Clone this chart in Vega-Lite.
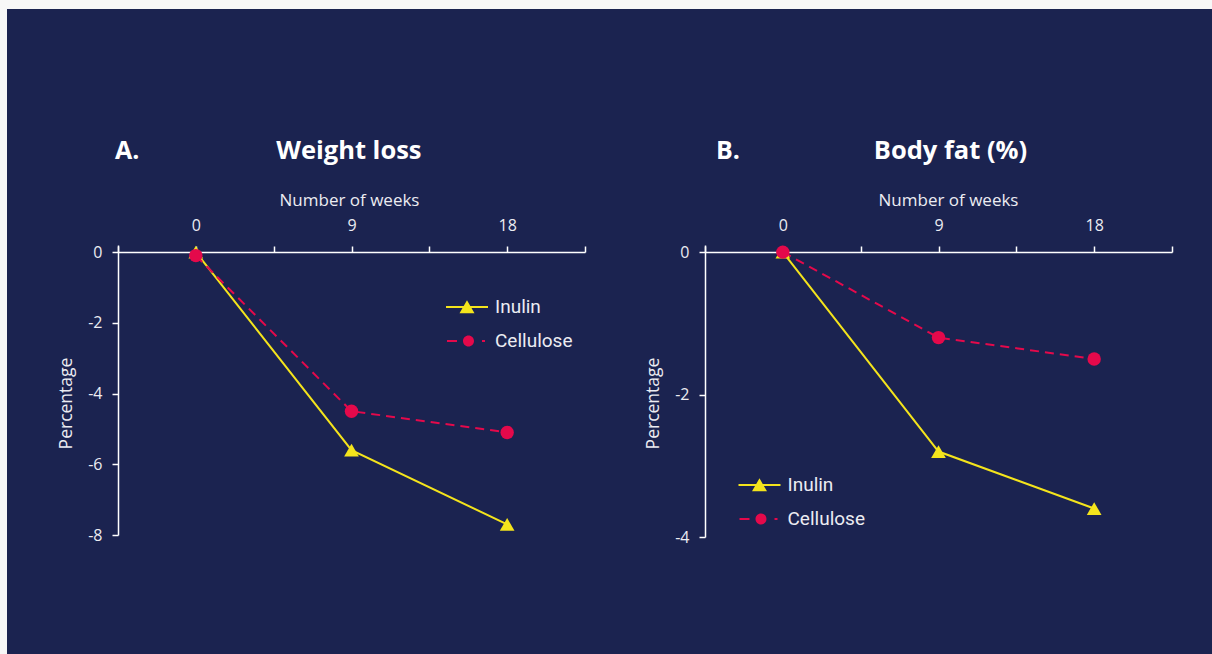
{
  "$schema": "https://vega.github.io/schema/vega-lite/v6.json",
  "width": 1205,
  "height": 645,
  "autosize": {"type": "none"},
  "padding": {"left": 7, "top": 9, "right": 0, "bottom": 0},
  "background": "#f7f7f7",
  "config": {
    "view": {"fill": "#1b2350", "stroke": null},
    "font": "Open Sans",
    "axis": {
      "domainColor": "#ffffff", "domainWidth": 1.5,
      "tickColor": "#ffffff", "tickWidth": 1.5, "tickSize": 6,
      "labelColor": "#ececf2", "titleColor": "#ececf2",
      "grid": false, "labelFont": "Open Sans", "titleFont": "Open Sans",
      "titleFontWeight": "normal"
    },
    "legend": {
      "labelFont": "Roboto", "labelFontSize": 19, "labelColor": "#ececf2",
      "symbolSize": 100, "symbolStrokeWidth": 0, "padding": 0
    },
    "text": {"font": "Open Sans"}
  },
  "datasets": {
    "weight": [
      {"series": "Inulin", "week": 0, "value": 0},
      {"series": "Inulin", "week": 9, "value": -5.6},
      {"series": "Inulin", "week": 18, "value": -7.7},
      {"series": "Cellulose", "week": 0, "value": -0.1},
      {"series": "Cellulose", "week": 9, "value": -4.5},
      {"series": "Cellulose", "week": 18, "value": -5.1}
    ],
    "fat": [
      {"series": "Inulin", "week": 0, "value": 0},
      {"series": "Inulin", "week": 9, "value": -2.8},
      {"series": "Inulin", "week": 18, "value": -3.6},
      {"series": "Cellulose", "week": 0, "value": 0},
      {"series": "Cellulose", "week": 9, "value": -1.2},
      {"series": "Cellulose", "week": 18, "value": -1.5}
    ]
  },
  "layer": [
    {
      "data": {"name": "weight"},
      "layer": [
        {
          "transform": [{"filter": "datum.series === 'Inulin'"}],
          "mark": {"type": "line", "strokeWidth": 2},
          "encoding": {
            "x": {"field": "week", "type": "quantitative",
              "scale": {"domain": [-4.5, 22.5], "range": [111, 578], "nice": false, "zero": false},
              "axis": {"orient": "top", "offset": -243, "values": [-4.5, 0, 4.5, 9, 13.5, 18, 22.5],
                "labelExpr": "datum.value % 9 === 0 ? '' + datum.value : ''", "labelFontSize": 16,
                "labelBaseline": "alphabetic", "labelPadding": 16, "labelFlush": false, "labelOverlap": false,
                "title": "Number of weeks", "titleFontSize": 17, "titleX": 342, "titleY": -47,
                "titleAlign": "center", "titleBaseline": "alphabetic"}},
            "y": {"field": "value", "type": "quantitative",
              "scale": {"domain": [-8, 0.2], "range": [526, 236], "nice": false, "zero": false},
              "axis": {"orient": "left", "offset": -111, "values": [0, -2, -4, -6, -8],
                "labelExpr": "'' + datum.value", "labelFontSize": 16, "labelPadding": 10,
                "title": "Percentage", "titleFontSize": 17.5, "titleAngle": -90, "titleX": -46.5, "titleY": 394,
                "titleAlign": "center", "titleBaseline": "alphabetic"}},
            "color": {"field": "series", "type": "nominal",
              "scale": {"domain": ["Inulin", "Cellulose"], "range": ["#f4e41c", "#e4094b"]},
              "legend": {"orient": "none", "legendX": 450.5, "legendY": 288.5, "title": null,
                "labelOffset": 18.5, "rowPadding": 14,
                "encode": {"symbols": {"update": {
                  "shape": {"signal": "datum.value === 'Inulin' ? 'M-4.2,-0.2H4.2V0.2H-4.2Z M-1.5,1.27L0,-1.33L1.5,1.27Z' : 'M-4,-0.18H-2V0.18H-4Z M3,-0.18H3.6V0.18H3Z M-0.8,0.0A1.1,1.1,0,1,0,1.4,0A1.1,1.1,0,1,0,-0.8,0Z'"},
                  "fill": {"signal": "datum.value === 'Inulin' ? '#f4e41c' : '#e4094b'"},
                  "stroke": {"value": "transparent"},
                  "opacity": {"value": 1}}}}}}
          }
        },
        {
          "transform": [{"filter": "datum.series === 'Cellulose'"}],
          "mark": {"type": "line", "strokeWidth": 2, "strokeDash": [9, 6]},
          "encoding": {
            "x": {"field": "week", "type": "quantitative"},
            "y": {"field": "value", "type": "quantitative"},
            "color": {"field": "series", "type": "nominal"}
          }
        },
        {
          "transform": [{"filter": "datum.series === 'Inulin'"}],
          "mark": {"type": "point", "shape": "triangle-up", "filled": true, "size": 216, "opacity": 1},
          "encoding": {
            "x": {"field": "week", "type": "quantitative"},
            "y": {"field": "value", "type": "quantitative"},
            "color": {"field": "series", "type": "nominal"}
          }
        },
        {
          "transform": [{"filter": "datum.series === 'Cellulose'"}],
          "mark": {"type": "point", "shape": "circle", "filled": true, "size": 180, "opacity": 1},
          "encoding": {
            "x": {"field": "week", "type": "quantitative"},
            "y": {"field": "value", "type": "quantitative"},
            "color": {"field": "series", "type": "nominal"}
          }
        },
        {
          "data": {"values": [{"label": "A."}]},
          "mark": {"type": "text", "align": "left", "baseline": "alphabetic", "fontSize": 25, "fontWeight": "bold", "color": "#ffffff"},
          "encoding": {
            "x": {"datum": -4.67, "type": "quantitative"},
            "y": {"datum": 2.632, "type": "quantitative"},
            "text": {"field": "label"}
          }
        },
        {
          "data": {"values": [{"label": "Weight loss"}]},
          "mark": {"type": "text", "align": "center", "baseline": "alphabetic", "fontSize": 25.5, "fontWeight": "bold", "color": "#ffffff"},
          "encoding": {
            "x": {"datum": 8.85, "type": "quantitative"},
            "y": {"datum": 2.632, "type": "quantitative"},
            "text": {"field": "label"}
          }
        }
      ]
    },
    {
      "data": {"name": "fat"},
      "layer": [
        {
          "transform": [{"filter": "datum.series === 'Inulin'"}],
          "mark": {"type": "line", "strokeWidth": 2},
          "encoding": {
            "x": {"field": "week", "type": "quantitative",
              "scale": {"domain": [-4.5, 22.5], "range": [698, 1165], "nice": false, "zero": false},
              "axis": {"orient": "top", "offset": -243, "values": [-4.5, 0, 4.5, 9, 13.5, 18, 22.5],
                "labelExpr": "datum.value % 9 === 0 ? '' + datum.value : ''", "labelFontSize": 16,
                "labelBaseline": "alphabetic", "labelPadding": 16, "labelFlush": false, "labelOverlap": false,
                "title": "Number of weeks", "titleFontSize": 17, "titleX": 941, "titleY": -47,
                "titleAlign": "center", "titleBaseline": "alphabetic"}},
            "y": {"field": "value", "type": "quantitative",
              "scale": {"domain": [-4, 0.1], "range": [528, 236], "nice": false, "zero": false},
              "axis": {"orient": "left", "offset": -698, "values": [0, -2, -4],
                "labelExpr": "'' + datum.value", "labelFontSize": 16, "labelPadding": 10,
                "title": "Percentage", "titleFontSize": 17.5, "titleAngle": -90, "titleX": -46.5, "titleY": 394,
                "titleAlign": "center", "titleBaseline": "alphabetic"}},
            "color": {"field": "series", "type": "nominal",
              "scale": {"domain": ["Inulin", "Cellulose"], "range": ["#f4e41c", "#e4094b"]},
              "legend": {"orient": "none", "legendX": 743, "legendY": 466.5, "title": null,
                "labelOffset": 18.5, "rowPadding": 14,
                "encode": {"symbols": {"update": {
                  "shape": {"signal": "datum.value === 'Inulin' ? 'M-4.2,-0.2H4.2V0.2H-4.2Z M-1.5,1.27L0,-1.33L1.5,1.27Z' : 'M-4,-0.18H-2V0.18H-4Z M3,-0.18H3.6V0.18H3Z M-0.8,0.0A1.1,1.1,0,1,0,1.4,0A1.1,1.1,0,1,0,-0.8,0Z'"},
                  "fill": {"signal": "datum.value === 'Inulin' ? '#f4e41c' : '#e4094b'"},
                  "stroke": {"value": "transparent"},
                  "opacity": {"value": 1}}}}}}
          }
        },
        {
          "transform": [{"filter": "datum.series === 'Cellulose'"}],
          "mark": {"type": "line", "strokeWidth": 2, "strokeDash": [9, 6]},
          "encoding": {
            "x": {"field": "week", "type": "quantitative"},
            "y": {"field": "value", "type": "quantitative"},
            "color": {"field": "series", "type": "nominal"}
          }
        },
        {
          "transform": [{"filter": "datum.series === 'Inulin'"}],
          "mark": {"type": "point", "shape": "triangle-up", "filled": true, "size": 216, "opacity": 1},
          "encoding": {
            "x": {"field": "week", "type": "quantitative"},
            "y": {"field": "value", "type": "quantitative"},
            "color": {"field": "series", "type": "nominal"}
          }
        },
        {
          "transform": [{"filter": "datum.series === 'Cellulose'"}],
          "mark": {"type": "point", "shape": "circle", "filled": true, "size": 180, "opacity": 1},
          "encoding": {
            "x": {"field": "week", "type": "quantitative"},
            "y": {"field": "value", "type": "quantitative"},
            "color": {"field": "series", "type": "nominal"}
          }
        },
        {
          "data": {"values": [{"label": "B."}]},
          "mark": {"type": "text", "align": "left", "baseline": "alphabetic", "fontSize": 25, "fontWeight": "bold", "color": "#ffffff"},
          "encoding": {
            "x": {"datum": -3.864, "type": "quantitative"},
            "y": {"datum": 1.307, "type": "quantitative"},
            "text": {"field": "label"}
          }
        },
        {
          "data": {"values": [{"label": "Body fat (%)"}]},
          "mark": {"type": "text", "align": "center", "baseline": "alphabetic", "fontSize": 25.5, "fontWeight": "bold", "color": "#ffffff"},
          "encoding": {
            "x": {"datum": 9.694, "type": "quantitative"},
            "y": {"datum": 1.307, "type": "quantitative"},
            "text": {"field": "label"}
          }
        }
      ]
    }
  ],
  "resolve": {
    "scale": {"x": "independent", "y": "independent", "color": "independent"},
    "axis": {"x": "independent", "y": "independent"},
    "legend": {"color": "independent"}
  }
}
